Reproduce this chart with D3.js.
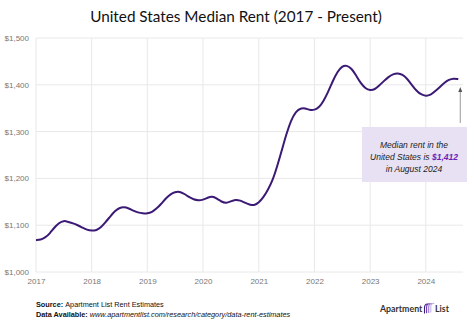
<!DOCTYPE html>
<html>
<head>
<meta charset="utf-8">
<script src="https://cdn.jsdelivr.net/npm/d3@7"></script>
<style>
  body { margin: 0; background: #fff; }
  svg { display: block; font-family: "Liberation Sans", Arial, sans-serif; }
</style>
</head>
<body>
<div id="chart"></div>
<script>
(function() {

  // monthly median rent, Jan 2017 - Aug 2024
  var months = d3.timeMonth.range(new Date(2017, 0, 1), new Date(2024, 8, 1));
  var rent = [
    1068, 1069, 1073, 1082, 1095, 1105, 1110, 1107, 1104, 1100, 1095, 1090,
    1088, 1089, 1095, 1106, 1118, 1130, 1137, 1139, 1136, 1131, 1127, 1125,
    1125, 1128, 1135, 1145, 1157, 1166, 1171, 1172, 1167, 1160, 1155, 1153,
    1154, 1159, 1162, 1157, 1150, 1147, 1151, 1155, 1153, 1148, 1144, 1142,
    1148, 1160, 1175, 1195, 1225, 1260, 1295, 1325, 1343, 1350, 1350, 1346,
    1346, 1352, 1365, 1385, 1408, 1428, 1440, 1442, 1435, 1420, 1403, 1392,
    1388, 1390, 1398, 1408, 1417, 1423, 1425, 1422, 1413, 1400, 1387, 1379,
    1376, 1378, 1386, 1395, 1404, 1411, 1414, 1412
  ];
  var yTicks = [1000, 1100, 1200, 1300, 1400, 1500];
  var xTicks = [2017, 2018, 2019, 2020, 2021, 2022, 2023, 2024];

  var width = 474, height = 334;
  var svg = d3.select('#chart').append('svg')
    .attr('width', width)
    .attr('height', height);

  var x = d3.scaleTime()
    .domain([new Date(2017, 0, 1), new Date(2024, 8, 1)])
    .range([36, 463]);
  var y = d3.scaleLinear()
    .domain([1000, 1500])
    .range([272, 38]);

  // title
  svg.append('text')
    .attr('x', 236).attr('y', 22)
    .attr('text-anchor', 'middle')
    .attr('font-family', 'Lato, sans-serif')
    .attr('font-size', 15.3)
    .attr('fill', '#111')
    .text('United States Median Rent (2017 - Present)');

  // grid
  svg.append('g').selectAll('line')
    .data(yTicks).enter().append('line')
    .attr('x1', 36).attr('x2', 463)
    .attr('y1', function(d) { return y(d); })
    .attr('y2', function(d) { return y(d); })
    .attr('stroke', '#e8e8e8');

  svg.append('g').selectAll('line')
    .data(xTicks).enter().append('line')
    .attr('x1', function(d) { return x(new Date(d, 0, 1)); })
    .attr('x2', function(d) { return x(new Date(d, 0, 1)); })
    .attr('y1', 38).attr('y2', 272)
    .attr('stroke', '#e8e8e8');

  // axes
  var yAxis = svg.append('g')
    .attr('transform', 'translate(30,0)')
    .call(d3.axisLeft(y).tickValues(yTicks).tickSize(0)
      .tickFormat(function(d) { return '$' + d3.format(',')(d); }));
  var xAxis = svg.append('g')
    .attr('transform', 'translate(0,281)')
    .call(d3.axisBottom(x)
      .tickValues(xTicks.map(function(d) { return new Date(d, 0, 1); }))
      .tickSize(0).tickFormat(d3.timeFormat('%Y')));
  [yAxis, xAxis].forEach(function(a) {
    a.select('.domain').remove();
    a.selectAll('text')
      .attr('font-size', 8)
      .attr('font-family', '"Liberation Sans", Arial, sans-serif')
      .attr('fill', '#777');
  });
  yAxis.selectAll('text').attr('x', -1);
  xAxis.selectAll('text').attr('y', 0).attr('dy', '0.35em');

  // line
  var line = d3.line()
    .x(function(d, i) { return x(months[i]); })
    .y(function(d) { return y(d); })
    .curve(d3.curveBasis);

  svg.append('path')
    .datum(rent)
    .attr('d', line)
    .attr('fill', 'none')
    .attr('stroke', '#3b1a75')
    .attr('stroke-width', 2);

  // annotation
  var last = months[months.length - 1];
  var ax = x(last) + 2;
  svg.append('line')
    .attr('x1', ax).attr('x2', ax)
    .attr('y1', 123).attr('y2', 90)
    .attr('stroke', '#999').attr('stroke-width', 1);
  svg.append('path')
    .attr('d', 'M' + (ax - 2) + ',92 L' + ax + ',87 L' + (ax + 2) + ',92 Z')
    .attr('fill', '#555');

  svg.append('rect')
    .attr('x', 362).attr('y', 127)
    .attr('width', 105).attr('height', 55)
    .attr('fill', '#e8e1f3');

  var note = svg.append('g')
    .attr('font-size', 8.5)
    .attr('font-style', 'italic')
    .attr('fill', '#222')
    .attr('text-anchor', 'middle');
  note.append('text').attr('x', 414).attr('y', 148).text('Median rent in the');
  var t2 = note.append('text').attr('x', 414).attr('y', 160);
  t2.append('tspan').text('United States is ');
  t2.append('tspan').attr('font-weight', 'bold').attr('fill', '#6a22b5')
    .text('$' + d3.format(',')(rent[rent.length - 1]));
  note.append('text').attr('x', 414).attr('y', 172).text('in August 2024');

  // footer
  var f1 = svg.append('text').attr('x', 36).attr('y', 307)
    .attr('font-size', 7.3).attr('fill', '#111');
  f1.append('tspan').attr('font-weight', 'bold').text('Source: ');
  f1.append('tspan').text('Apartment List Rent Estimates');
  var f2 = svg.append('text').attr('x', 36).attr('y', 317)
    .attr('font-size', 7.3).attr('fill', '#111');
  f2.append('tspan').attr('font-weight', 'bold').text('Data Available: ');
  f2.append('tspan').attr('font-style', 'italic')
    .text('www.apartmentlist.com/research/category/data-rent-estimates');

  // logo
  var logo = svg.append('g').attr('fill', '#333').attr('font-size', 8.8)
    .attr('font-family', 'Lato, sans-serif').attr('font-weight', 'bold');
  logo.append('text').attr('x', 380).attr('y', 312).text('Apartment');
  logo.append('text').attr('x', 435).attr('y', 312).text('List');
  var icon = svg.append('g').attr('fill', 'none').attr('stroke-width', 1.1)
    .attr('stroke-linecap', 'round');
  [0, 1, 2, 3].forEach(function(i) {
    var x0 = 424.5 + i * 2.1;
    icon.append('path')
      .attr('d', 'M' + x0 + ',' + (313 - i * 0.3) + ' L' + x0 + ',' + (308 - i * 0.4) +
        ' Q' + x0 + ',' + (304 - i * 0.3) + ' ' + (x0 + 3) + ',' + (304 - i * 0.2))
      .attr('stroke', ['#3b1a75', '#6a3bb0', '#9a78d2', '#c6b3e6'][i]);
  });

})();
</script>
</body>
</html>
